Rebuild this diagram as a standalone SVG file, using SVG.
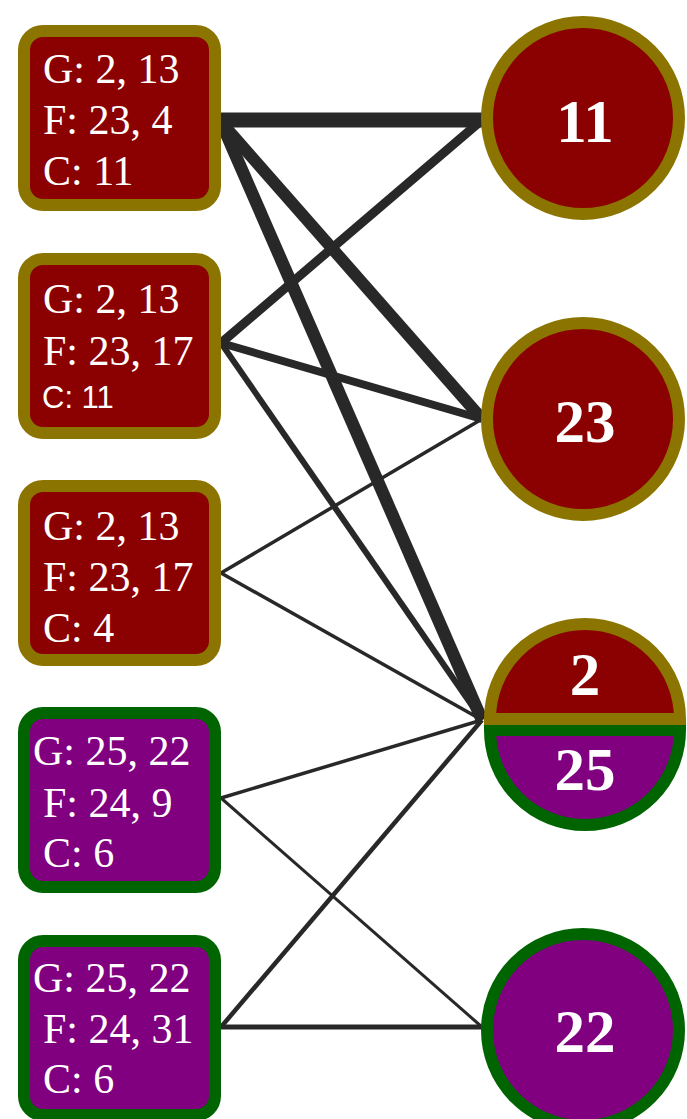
<svg xmlns="http://www.w3.org/2000/svg" width="687" height="1119" viewBox="0 0 687 1119">
<style>
.e{stroke:#282828;fill:none;stroke-linecap:butt}
.rbox{fill:#8b0000;stroke:#8b7500;stroke-width:12}
.pbox{fill:#800080;stroke:#006400;stroke-width:12}
.t{font-family:"Liberation Serif",serif;font-size:42px;fill:#fff}
.ts{font-family:"Liberation Sans",sans-serif;font-size:31px;fill:#fff}
.n{font-family:"Liberation Serif",serif;font-size:61px;font-weight:bold;fill:#fff;text-anchor:middle}
</style>
<rect width="687" height="1119" fill="#fff"/>
<g id="connectors">
<line class="e" x1="221" y1="120" x2="482" y2="120" stroke-width="15"/>
<line class="e" x1="221" y1="122" x2="482" y2="419" stroke-width="12"/>
<line class="e" x1="221" y1="122" x2="482" y2="720" stroke-width="12.5"/>
<line class="e" x1="221" y1="343" x2="482" y2="120" stroke-width="9"/>
<line class="e" x1="221" y1="343" x2="482" y2="419" stroke-width="8"/>
<line class="e" x1="221" y1="343" x2="482" y2="720" stroke-width="6"/>
<line class="e" x1="221" y1="573" x2="482" y2="419" stroke-width="3.5"/>
<line class="e" x1="221" y1="573" x2="482" y2="720" stroke-width="3.5"/>
<line class="e" x1="221" y1="798" x2="482" y2="720" stroke-width="3.5"/>
<line class="e" x1="221" y1="798" x2="482" y2="1027" stroke-width="3"/>
<line class="e" x1="221" y1="1027" x2="482" y2="720" stroke-width="4.5"/>
<line class="e" x1="221" y1="1027" x2="482" y2="1027" stroke-width="5"/>
</g>
<g id="box1">
<rect class="rbox" x="24" y="31" width="191" height="174" rx="19"/>
<text class="t" x="43" y="83">G: 2, 13</text>
<text class="t" x="43" y="134">F: 23, 4</text>
<text class="t" x="43" y="185">C: 11</text>
</g>
<g id="box2">
<rect class="rbox" x="24" y="259" width="191" height="174" rx="19"/>
<text class="t" x="43" y="313">G: 2, 13</text>
<text class="t" x="43" y="365">F: 23, 17</text>
<text class="ts" x="42" y="408">C: 11</text>
</g>
<g id="box3">
<rect class="rbox" x="24" y="486" width="191" height="174" rx="19"/>
<text class="t" x="43" y="540">G: 2, 13</text>
<text class="t" x="43" y="591">F: 23, 17</text>
<text class="t" x="43" y="642">C: 4</text>
</g>
<g id="box4">
<rect class="pbox" x="24" y="713" width="191" height="174" rx="19"/>
<text class="t" x="33" y="765">G: 25, 22</text>
<text class="t" x="43" y="817">F: 24, 9</text>
<text class="t" x="43" y="867">C: 6</text>
</g>
<g id="box5">
<rect class="pbox" x="24" y="941" width="191" height="174" rx="19"/>
<text class="t" x="33" y="992">G: 25, 22</text>
<text class="t" x="43" y="1043">F: 24, 31</text>
<text class="t" x="43" y="1093">C: 6</text>
</g>
<g id="n11">
<circle cx="583" cy="118" r="96" fill="#8b0000" stroke="#8b7500" stroke-width="12"/>
<text class="n" x="585" y="142">11</text>
</g>
<g id="n23">
<circle cx="583" cy="419" r="96" fill="#8b0000" stroke="#8b7500" stroke-width="12"/>
<text class="n" x="585" y="442">23</text>
</g>
<g id="n2_25">
<path d="M490 730 A95 95 0 0 0 680 730 Z" fill="#800080" stroke="#006400" stroke-width="12"/>
<path d="M490 719 A95 95 0 0 1 680 719 Z" fill="#8b0000" stroke="#8b7500" stroke-width="12"/>
<text class="n" x="585" y="695">2</text>
<text class="n" x="585" y="790">25</text>
</g>
<g id="n22">
<circle cx="583" cy="1030" r="96" fill="#800080" stroke="#006400" stroke-width="12"/>
<text class="n" x="585" y="1052">22</text>
</g>
</svg>
